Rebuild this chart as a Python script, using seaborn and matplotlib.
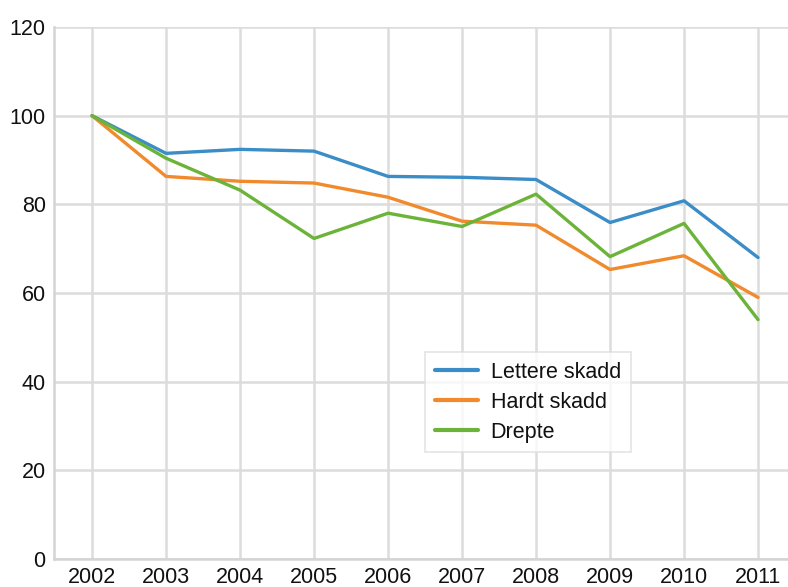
import matplotlib
matplotlib.use("Agg")
import matplotlib.pyplot as plt
import seaborn as sns
import pandas as pd

years = [2002, 2003, 2004, 2005, 2006, 2007, 2008, 2009, 2010, 2011]
lettere_skadd = [100, 91.5, 92.4, 92.0, 86.3, 86.1, 85.6, 75.9, 80.8, 68.0]
hardt_skadd = [100, 86.3, 85.2, 84.8, 81.6, 76.2, 75.3, 65.3, 68.4, 59.0]
drepte = [100, 90.4, 83.2, 72.3, 78.0, 75.0, 82.3, 68.2, 75.7, 54.0]
series_names = ["Lettere skadd", "Hardt skadd", "Drepte"]
y_ticks = [0, 20, 40, 60, 80, 100, 120]

df = pd.DataFrame({
    "year": years * 3,
    "value": lettere_skadd + hardt_skadd + drepte,
    "series": [series_names[0]] * len(years) + [series_names[1]] * len(years) + [series_names[2]] * len(years),
})

sns.set_theme(style="white")
plt.rcParams["font.family"] = ["Liberation Sans", "DejaVu Sans"]

fig = plt.figure(figsize=(7.88, 5.87), dpi=100)
ax = fig.add_axes([54 / 788, 1 - 559 / 587, 1 - 54 / 788, (559 - 27) / 587])

palette = {"Lettere skadd": "#3a8dc6", "Hardt skadd": "#f08a2c", "Drepte": "#6cb33a"}
sns.lineplot(data=df, x="year", y="value", hue="series", palette=palette,
             linewidth=2.4, ax=ax, legend=True)

ax.set_xlim(2001.486, 2011.405)
ax.set_ylim(0, 120)
ax.set_xticks(years)
ax.set_xticklabels([str(y) for y in years])
ax.set_yticks(y_ticks)
ax.set_xlabel("")
ax.set_ylabel("")
ax.grid(True, color="#dcdcdc", linewidth=1.8)
ax.set_axisbelow(True)
for s in ["top", "right"]:
    ax.spines[s].set_visible(False)
for s in ["left", "bottom"]:
    ax.spines[s].set_color("#d4d4d4")
    ax.spines[s].set_linewidth(1.8)
ax.tick_params(axis="both", length=0, labelsize=15.5, colors="#111111")
ax.tick_params(axis="y", pad=6)
ax.tick_params(axis="x", pad=6)

leg = ax.legend(loc="upper left", bbox_to_anchor=((425 - 54) / (788 - 54), 1 - (352 - 27) / (559 - 27)),
                fontsize=15.5, frameon=True, fancybox=False, handlelength=2.0,
                borderpad=0.45, labelspacing=0.42, handletextpad=0.6, borderaxespad=0)
leg.get_frame().set_edgecolor("#dddddd")
leg.get_frame().set_linewidth(1.2)
for text in leg.get_texts():
    text.set_color("#111111")
for line in leg.get_lines():
    line.set_linewidth(3)

fig.savefig("out.png", dpi=100)
